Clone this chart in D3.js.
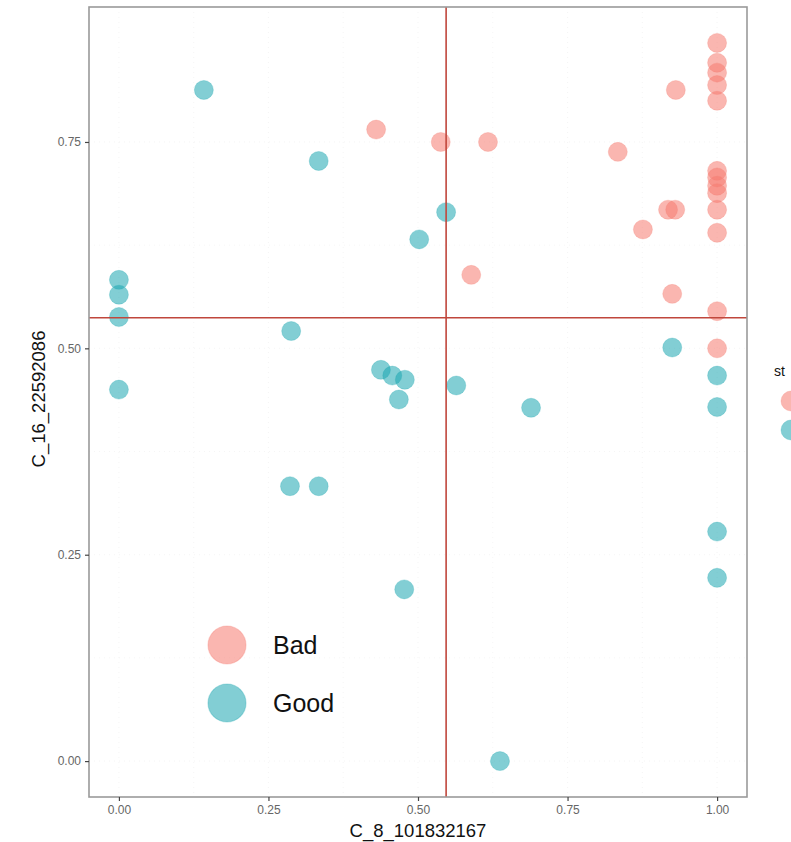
<!DOCTYPE html>
<html><head><meta charset="utf-8">
<script src="https://cdn.jsdelivr.net/npm/d3@7"></script>
<style>
html,body{margin:0;padding:0;background:#fff;overflow:hidden;}
svg{display:block;font-family:"Liberation Sans",Arial,Helvetica,sans-serif;}
</style></head>
<body><svg id="chart" width="791" height="842"></svg>
<script>
// ---- data ----
const badX = [0.430, 0.538, 0.617, 0.834, 0.931, 1, 1, 1, 1, 1, 1, 1, 1, 1, 1, 1, 0.918, 0.930, 0.876, 0.589, 0.925, 1, 1];
const badY = [0.765, 0.750, 0.750, 0.738, 0.813, 0.870, 0.846, 0.834, 0.819, 0.800, 0.715, 0.707, 0.697, 0.688, 0.668, 0.640, 0.668, 0.668, 0.644, 0.589, 0.566, 0.545, 0.500];
const goodX = [0.142, 0.334, 0.547, 0.502, 0, 0, 0, 0, 0.288, 0.438, 0.457, 0.478, 0.468, 0.564, 0.689, 0.925, 1, 1, 1, 1, 0.286, 0.334, 0.477, 0.637];
const goodY = [0.813, 0.727, 0.665, 0.632, 0.583, 0.565, 0.538, 0.450, 0.521, 0.474, 0.467, 0.462, 0.438, 0.455, 0.428, 0.501, 0.467, 0.429, 0.278, 0.222, 0.333, 0.333, 0.208, 0.000];
const xTicks = [0, 0.25, 0.5, 0.75, 1];
const yTicks = [0, 0.25, 0.5, 0.75];
const vLine = 0.547;
const hLine = 0.537;
const groups = ["Bad", "Good"];
const xTitle = "C_8_101832167";
const yTitle = "C_16_22592086";
const legendTitle = "st"; // visible part of the cut-off legend title

// ---- layout ----
const svg = d3.select("#chart");
const panel = {left: 89, right: 747, top: 7, bottom: 797};
const xDom = [0, 1], yDom = [0, 0.87];
const xPad = (xDom[1]-xDom[0])*0.05, yPad = (yDom[1]-yDom[0])*0.05;
const x = d3.scaleLinear().domain([xDom[0]-xPad, xDom[1]+xPad]).range([panel.left, panel.right]);
const y = d3.scaleLinear().domain([yDom[0]-yPad, yDom[1]+yPad]).range([panel.bottom, panel.top]);
const color = d3.scaleOrdinal().domain(groups).range(["#F57A70", "#1CA6B0"]);

// grid (major + minor), very faint
const g = svg.append("g");
const xMinor = d3.range(0, 1.001, 0.125);
const yMinor = d3.range(0, 0.87, 0.125);
g.selectAll(".gx").data(xMinor).join("line")
  .attr("x1", d => x(d)).attr("x2", d => x(d)).attr("y1", panel.top).attr("y2", panel.bottom)
  .attr("stroke", "#eeeeee").attr("stroke-width", 0.6).attr("stroke-dasharray", "1,4");
g.selectAll(".gy").data(yMinor).join("line")
  .attr("y1", d => y(d)).attr("y2", d => y(d)).attr("x1", panel.left).attr("x2", panel.right)
  .attr("stroke", "#eeeeee").attr("stroke-width", 0.6).attr("stroke-dasharray", "1,4");

// points
const pts = [];
badX.forEach((v, i) => pts.push({x: v, y: badY[i], s: "Bad"}));
goodX.forEach((v, i) => pts.push({x: v, y: goodY[i], s: "Good"}));
svg.append("g").selectAll("circle").data(pts).join("circle")
  .attr("cx", d => x(d.x)).attr("cy", d => y(d.y)).attr("r", 9.5)
  .attr("fill", d => color(d.s)).attr("fill-opacity", 0.55)
  .attr("stroke", d => color(d.s)).attr("stroke-opacity", 0.25).attr("stroke-width", 1);

// reference lines
svg.append("line").attr("x1", x(vLine)).attr("x2", x(vLine)).attr("y1", panel.top).attr("y2", panel.bottom)
  .attr("stroke", "#C0473C").attr("stroke-width", 1.6);
svg.append("line").attr("y1", y(hLine)).attr("y2", y(hLine)).attr("x1", panel.left).attr("x2", panel.right)
  .attr("stroke", "#C0473C").attr("stroke-width", 1.6);

// panel border
svg.append("rect").attr("x", panel.left).attr("y", panel.top)
  .attr("width", panel.right-panel.left).attr("height", panel.bottom-panel.top)
  .attr("fill", "none").attr("stroke", "#9a9a9a").attr("stroke-width", 1.6);

// axes
const xAxis = svg.append("g").attr("transform", `translate(0,${panel.bottom})`)
  .call(d3.axisBottom(x).tickValues(xTicks).tickFormat(d3.format(".2f")).tickSize(4).tickPadding(4));
const yAxis = svg.append("g").attr("transform", `translate(${panel.left},0)`)
  .call(d3.axisLeft(y).tickValues(yTicks).tickFormat(d3.format(".2f")).tickSize(4).tickPadding(4));
[xAxis, yAxis].forEach(a => {
  a.select(".domain").remove();
  a.selectAll(".tick line").attr("stroke", "#444").attr("stroke-width", 1.2);
  a.selectAll(".tick text").attr("fill", "#666").attr("font-size", 12)
    .attr("font-family", "'Liberation Sans',Arial,sans-serif");
});

// axis titles
svg.append("text").attr("x", 418).attr("y", 837).attr("text-anchor", "middle")
  .attr("font-size", 18.5).attr("fill", "#111").text(xTitle);
svg.append("text").attr("transform", `translate(45,399) rotate(-90)`)
  .attr("text-anchor", "middle").attr("font-size", 18.5).attr("fill", "#111").text(yTitle);

// in-panel legend
const lg = svg.append("g");
groups.forEach((s, i) => {
  const cy = 645 + i*58;
  lg.append("circle").attr("cx", 227).attr("cy", cy).attr("r", 19)
    .attr("fill", color(s)).attr("fill-opacity", 0.55)
    .attr("stroke", color(s)).attr("stroke-opacity", 0.3).attr("stroke-width", 1.2);
  lg.append("text").attr("x", 273).attr("y", cy + 9).attr("font-size", 25).attr("fill", "#111").text(s);
});

// right legend (cut off by page edge)
const rg = svg.append("g");
rg.append("text").attr("x", 774).attr("y", 376).attr("font-size", 14).attr("fill", "#111").text(legendTitle);
groups.forEach((s, i) => {
  rg.append("circle").attr("cx", 791).attr("cy", 401 + i*29).attr("r", 10)
    .attr("fill", color(s)).attr("fill-opacity", 0.55)
    .attr("stroke", color(s)).attr("stroke-opacity", 0.25);
});
</script></body></html>
